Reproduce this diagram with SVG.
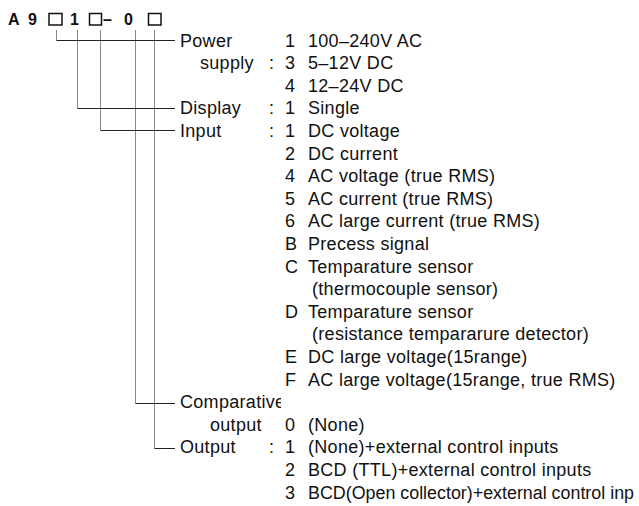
<svg xmlns="http://www.w3.org/2000/svg" width="639" height="506" viewBox="0 0 639 506">
<style>
text{font-family:"Liberation Sans",Arial,sans-serif;font-size:18px;fill:#111;letter-spacing:0.3px}
.h{font-weight:bold;font-size:16px;letter-spacing:0}
.box{fill:none;stroke:#111;stroke-width:1.5}
.v{fill:none;stroke:#888;stroke-width:1}
.hl{fill:none;stroke:#222;stroke-width:1}
</style>
<defs><clipPath id="cc"><rect x="170" y="385" width="111" height="30"/></clipPath></defs>
<rect width="639" height="506" fill="#fff"/>
<g id="code">
<text class="h" x="8" y="25">A</text>
<text class="h" x="28" y="25">9</text>
<rect class="box" x="49" y="13.5" width="13" height="11.5"/>
<text class="h" x="70" y="25">1</text>
<rect class="box" x="89.5" y="13.5" width="12" height="11.5"/>
<text class="h" x="103" y="25">–</text>
<text class="h" x="124" y="25">0</text>
<rect class="box" x="148.5" y="13.5" width="12.5" height="11.5"/>
</g>
<g id="connectors">
<path class="v" d="M56.5,30V40.5M77.5,30V108.5M100.5,30V130.5M135.5,30V403.5M154.5,30V448.5"/>
<path class="hl" d="M56.5,40.5H175M77.5,108.5H175M100.5,130.5H175M135.5,403.5H175M154.5,448.5H175"/>
</g>
<g id="power">
<text x="180" y="46.5">Power</text>
<text x="200" y="69">supply</text>
<text x="269" y="69">:</text>
<text x="285" y="46.5">1</text><text x="308" y="46.5">100–240V AC</text>
<text x="285" y="69">3</text><text x="308" y="69">5–12V DC</text>
<text x="285" y="91.7">4</text><text x="308" y="91.7">12–24V DC</text>
</g>
<g id="display">
<text x="180" y="114.3">Display</text>
<text x="269" y="114.3">:</text>
<text x="285" y="114.3">1</text><text x="308" y="114.3">Single</text>
</g>
<g id="input">
<text x="180" y="136.9">Input</text>
<text x="269" y="136.9">:</text>
<text x="285" y="136.9">1</text><text x="308" y="136.9">DC voltage</text>
<text x="285" y="159.5">2</text><text x="308" y="159.5">DC current</text>
<text x="285" y="182.1">4</text><text x="308" y="182.1">AC voltage (true RMS)</text>
<text x="285" y="204.7">5</text><text x="308" y="204.7">AC current (true RMS)</text>
<text x="285" y="227.3">6</text><text x="308" y="227.3">AC large current (true RMS)</text>
<text x="285" y="249.9">B</text><text x="308" y="249.9">Precess signal</text>
<text x="285" y="272.5">C</text><text x="308" y="272.5">Temparature sensor</text>
<text x="312" y="295.1">(thermocouple sensor)</text>
<text x="285" y="317.7">D</text><text x="308" y="317.7">Temparature sensor</text>
<text x="312" y="340.3">(resistance tempararure detector)</text>
<text x="285" y="362.9">E</text><text x="308" y="362.9">DC large voltage(15range)</text>
<text x="285" y="385.5">F</text><text x="308" y="385.5">AC large voltage(15range, true RMS)</text>
</g>
<g id="comparative">
<text x="180" y="408.1" clip-path="url(#cc)">Comparative</text>
<text x="210" y="430.7">output</text>
<text x="285" y="430.7">0</text><text x="308" y="430.7">(None)</text>
</g>
<g id="output">
<text x="180" y="453.3">Output</text>
<text x="269" y="453.3">:</text>
<text x="285" y="453.3">1</text><text x="308" y="453.3">(None)+external control inputs</text>
<text x="285" y="475.9">2</text><text x="308" y="475.9">BCD (TTL)+external control inputs</text>
<text x="285" y="498.5">3</text><text x="308" y="498.5" textLength="326" lengthAdjust="spacingAndGlyphs" style="letter-spacing:0">BCD(Open collector)+external control inp</text>
</g>
</svg>
